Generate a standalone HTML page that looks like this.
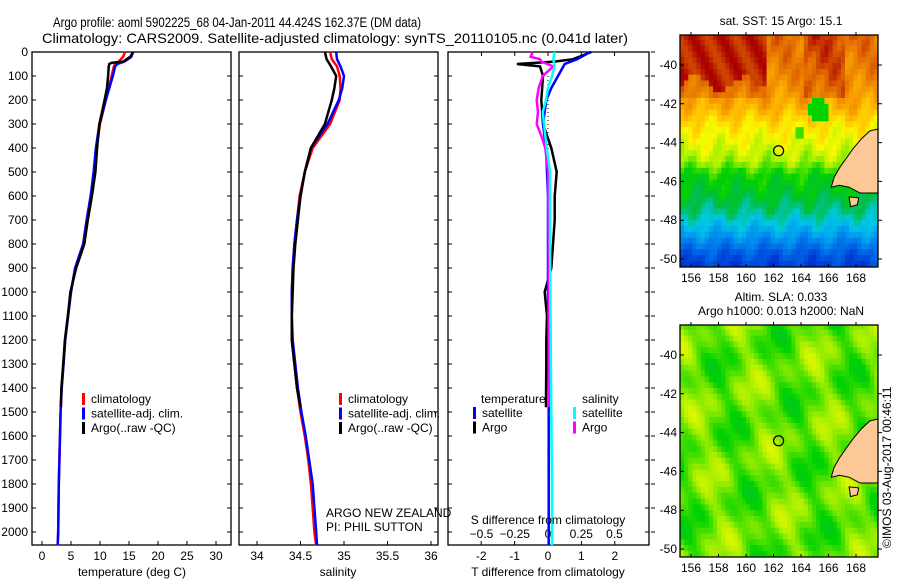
<!DOCTYPE html>
<html><head><meta charset="utf-8"><style>
html,body{margin:0;padding:0;background:#fff}
svg{display:block;font-family:"Liberation Sans",sans-serif}
</style></head><body>
<svg id="fig" width="900" height="580" viewBox="0 0 900 580">
<defs>
<clipPath id="c1"><rect x="680" y="35" width="198" height="232"/></clipPath>
<clipPath id="c2"><rect x="680" y="325" width="198" height="232"/></clipPath>
</defs>
<text x="53" y="27" font-size="14" textLength="368" lengthAdjust="spacingAndGlyphs">Argo profile: aoml 5902225_68 04-Jan-2011 44.424S 162.37E (DM data)</text>
<text x="42" y="43" font-size="14" textLength="586" lengthAdjust="spacingAndGlyphs">Climatology: CARS2009. Satellite-adjusted climatology: synTS_20110105.nc (0.041d later)</text>
<g id="g1"></g>
<g id="g2"></g>
<g id="g3"></g>
<g id="m1"></g>
<g id="m2"></g>
<text transform="translate(891,548) rotate(-90)" font-size="12">©IMOS 03-Aug-2017 00:46:11</text>
</svg>
<script>
// ---- data ----
const tDepth = [0,20,40,50,60,100,150,200,300,400,500,600,700,800,900,1000,1100,1200,1300,1400,1500,1600,1800,2000,2055];
const tClim  = [14.3,14.0,13.2,12.6,12.4,12.0,11.5,11.0,10.0,9.4,9.0,8.4,7.7,7.1,5.7,5.0,4.5,4.0,3.7,3.4,3.2,3.1,2.9,2.8,2.7];
const tSat   = [15.7,15.4,14.2,13.0,12.6,12.2,11.6,11.0,9.9,9.3,8.9,8.4,7.7,7.1,5.7,5.0,4.5,4.0,3.7,3.4,3.2,3.1,2.9,2.8,2.7];
const aDepth = [0,20,40,45,50,60,100,150,200,300,400,500,600,700,800,900,1000,1100,1200,1300,1400,1480];
const tArgo  = [15.7,15.2,14.0,12.0,11.6,11.5,11.4,11.2,10.8,9.9,9.5,9.2,8.6,7.9,7.3,5.9,4.9,4.45,3.95,3.65,3.35,3.25];
const sDepth = [0,30,60,100,150,200,300,400,500,600,700,800,900,1000,1100,1200,1300,1400,1500,1600,1700,1800,1900,2000,2055];
const sClim  = [34.84,34.86,34.92,34.95,34.96,34.95,34.84,34.64,34.55,34.49,34.46,34.43,34.41,34.40,34.40,34.40,34.43,34.46,34.50,34.55,34.59,34.62,34.64,34.66,34.68];
const sSat   = [34.91,34.92,34.96,35.00,34.98,34.94,34.81,34.62,34.55,34.50,34.46,34.43,34.41,34.40,34.40,34.41,34.44,34.47,34.51,34.56,34.60,34.64,34.66,34.68,34.69];
const sArgo  = [34.78,34.80,34.85,34.91,34.89,34.86,34.78,34.62,34.55,34.50,34.47,34.44,34.42,34.41,34.40,34.40,34.43,34.46,34.50];
const sArgoDepth = [0,30,60,100,150,200,300,400,500,600,700,800,900,1000,1100,1200,1300,1400,1480];
const dTSatDepth = [0,30,50,100,150,200,300,400,500,600,800,1000,1200,1500,1800,2055];
const dTSat  = [1.26,0.87,0.5,0.3,0.1,-0.05,-0.15,-0.06,-0.03,0,0,0,0.02,0.02,0.02,0.02];
const dTArgoDepth = [0,30,40,50,60,100,200,300,400,500,600,700,800,900,1000,1100,1200,1300,1450,1480];
const dTArgo = [1.3,0.75,0.2,-0.93,-0.24,-0.15,-0.2,-0.15,0.1,0.26,0.2,0.2,0.15,0.1,-0.1,-0.03,-0.05,-0.05,-0.06,-0.06];
const dSSatDepth = [0,30,60,100,150,200,250,300,400,500,800,1200,1500,1800,2055];
const dSSat  = [0.05,0.04,0.05,0.03,0.0,-0.015,-0.04,-0.03,-0.01,0.015,0.015,0.02,0.025,0.03,0.03];
const dSArgoDepth = [0,20,30,40,60,80,100,150,200,250,300,350,400,500,800,1200,1480];
const dSArgo = [-0.115,-0.13,-0.06,-0.05,0.04,0,-0.04,-0.07,-0.085,-0.075,-0.085,-0.05,-0.02,0,0.005,0.005,0.005];
const depthTicks = [0,100,200,300,400,500,600,700,800,900,1000,1100,1200,1300,1400,1500,1600,1700,1800,1900,2000];
const tTicks = [0,5,10,15,20,25,30];
const sTicks = [34,34.5,35,35.5,36];
const sTickLabels = ["34","34.5","35","35.5","36"];
const dTTicks = [-2,-1,0,1,2];
const dSTicks = [-0.5,-0.25,0,0.25,0.5];
const dSTickLabels = ["−0.5","−0.25","0","0.25","0.5"];
const latTicks = [-40,-42,-44,-46,-48,-50];
const lonTicks = [156,158,160,162,164,166,168];
const argoLon = 162.37, argoLat = -44.42;
// SST meridional profile (normalised colour index by latitude)
const sstLat = [-38.4,-40,-41,-42,-43,-44,-44.8,-45.5,-46.5,-47.5,-48.5,-49.5,-50.6];
const sstIdx = [0.83,0.81,0.79,0.75,0.68,0.64,0.6,0.52,0.48,0.42,0.33,0.22,0.14];

const NS="http://www.w3.org/2000/svg";
function mk(p,tag,a,txt){const e=document.createElementNS(NS,tag);for(const k in a)e.setAttribute(k,a[k]);if(txt!==undefined)e.textContent=txt;p.appendChild(e);return e;}
const yD = d => 52 + d*0.24;
const TOP=52, BOT=545;

function frame(g,x0,x1){
  const r=mk(g,'rect',{x:x0,y:TOP,width:x1-x0,height:BOT-TOP,fill:'none',stroke:'#000','stroke-width':1.3});
  
  
  depthTicks.forEach(d=>{
    const t=mk(g,'path',{d:`M${x0} ${yD(d)}h4M${x1} ${yD(d)}h-4`,stroke:'#000'});
    
    
  });
}
function line(g,xs,ds,fx,col,w,name){
  const pts=xs.map((v,i)=>fx(v).toFixed(1)+','+yD(ds[i]).toFixed(1)).join(' ');
  const p=mk(g,'polyline',{points:pts,fill:'none',stroke:col,'stroke-width':w});
  
  
}
function xticks(g,ticks,labels,fx,y,up){
  ticks.forEach((v,i)=>{
    const t=mk(g,'path',{d:`M${fx(v)} ${up?BOT:TOP}v${up?-4:4}`,stroke:'#000'});
    
    
    const l=mk(g,'text',{x:fx(v),y:y,'font-size':12,'text-anchor':'middle'},labels[i]);
    
    
  });
}
function legend(g,x,y,items){
  items.forEach((it,i)=>{
    const b=mk(g,'rect',{x:x,y:y+i*14.5-10,width:3,height:12,fill:it[0]});
    
    
    const t=mk(g,'text',{x:x+9,y:y+i*14.5,'font-size':12},it[1]);
    
    
  });
}

// panel 1
const g1=document.getElementById('g1');
const fT=v=>42+v*5.8;
frame(g1,32,231);
depthTicks.forEach(d=>{
  const l=mk(g1,'text',{x:28,y:yD(d)+4,'font-size':12,'text-anchor':'end'},String(d));
  
  
});
xticks(g1,tTicks,tTicks.map(String),fT,560,true);
line(g1,tClim,tDepth,fT,'#f00',2.5,'temperature-climatology-line');
line(g1,tSat,tDepth,fT,'#00f',2.5,'temperature-satellite-line');
line(g1,tArgo,aDepth,fT,'#000',2.5,'temperature-argo-line');
legend(g1,82,403,[['#f00','climatology'],['#00f','satellite-adj. clim.'],['#000','Argo(..raw -QC)']]);
let xl=mk(g1,'text',{x:132,y:576,'font-size':12,'text-anchor':'middle'},'temperature (deg C)');


// panel 2
const g2=document.getElementById('g2');
const fS=v=>257+(v-34)*87;
frame(g2,239,438);
xticks(g2,sTicks,sTickLabels,fS,560,true);
line(g2,sClim,sDepth,fS,'#f00',2.5,'salinity-climatology-line');
line(g2,sSat,sDepth,fS,'#00f',2.5,'salinity-satellite-line');
line(g2,sArgo,sArgoDepth,fS,'#000',2.5,'salinity-argo-line');
legend(g2,339,403,[['#f00','climatology'],['#00f','satellite-adj. clim.'],['#000','Argo(..raw -QC)']]);
let t1=mk(g2,'text',{x:326,y:517,'font-size':12},'ARGO NEW ZEALAND');
let t2=mk(g2,'text',{x:326,y:531,'font-size':12},'PI: PHIL SUTTON');
xl=mk(g2,'text',{x:338,y:576,'font-size':12,'text-anchor':'middle'},'salinity');


// panel 3
const g3=document.getElementById('g3');
const fDT=v=>548+v*33.4, fDS=v=>548+v*133;
frame(g3,448,649);
depthTicks.forEach(d=>{const t=mk(g3,'path',{d:`M651 ${yD(d)}h4`,stroke:'#000'});});
xticks(g3,dTTicks,dTTicks.map(String),fDT,560,true);
dSTicks.forEach((v,i)=>{const t=mk(g3,'path',{d:`M${fDS(v)} ${TOP}v4`,stroke:'#000'});
  const l=mk(g3,'text',{x:fDS(v),y:538,'font-size':12,'text-anchor':'middle'},dSTickLabels[i]);});
let z=mk(g3,'line',{x1:fDT(0),x2:fDT(0),y1:yD(100),y2:yD(720),stroke:'#000','stroke-dasharray':'1 3'});
line(g3,dTArgo,dTArgoDepth,fDT,'#000',2.5,'t-diff-argo-line');
line(g3,dTSat,dTSatDepth,fDT,'#00f',2.5,'t-diff-satellite-line');
line(g3,dSArgo,dSArgoDepth,fDS,'#f0f',2.5,'s-diff-argo-line');
line(g3,dSSat,dSSatDepth,fDS,'#0ff',2.5,'s-diff-satellite-line');
let lt=mk(g3,'text',{x:481,y:403,'font-size':12},'temperature');
let ls=mk(g3,'text',{x:582,y:403,'font-size':12},'salinity');
legend(g3,473,417,[['#00f','satellite'],['#000','Argo']]);
legend(g3,573,417,[['#0ff','satellite'],['#f0f','Argo']]);
let sx=mk(g3,'text',{x:548,y:524,'font-size':12,'text-anchor':'middle'},'S difference from climatology');
xl=mk(g3,'text',{x:548,y:576,'font-size':12,'text-anchor':'middle'},'T difference from climatology');


// maps
const cmapStops=[[0,[0,0,130]],[0.15,[0,50,210]],[0.28,[0,130,240]],[0.38,[0,200,230]],[0.46,[0,190,60]],[0.52,[0,210,0]],[0.6,[170,240,0]],[0.66,[250,250,0]],[0.74,[255,180,0]],[0.84,[225,105,0]],[0.93,[170,0,0]],[1,[150,0,0]]];
function cmap(t){t=Math.max(0,Math.min(1,t));for(let i=1;i<cmapStops.length;i++){if(t<=cmapStops[i][0]){const a=cmapStops[i-1],b=cmapStops[i],f=(t-a[0])/(b[0]-a[0]);return 'rgb('+a[1].map((v,k)=>Math.round(v+(b[1][k]-v)*f)).join(',')+')';}}return 'rgb(150,0,0)';}
function interp(xs,ys,x){for(let i=1;i<xs.length;i++){if(x>=xs[i]){const f=(x-xs[i-1])/(xs[i]-xs[i-1]);return ys[i-1]+(ys[i]-ys[i-1])*f;}}return ys[ys.length-1];}
const land=[[169.6,-43.3],[169.0,-43.4],[168.4,-43.8],[167.8,-44.3],[167.3,-44.8],[166.8,-45.3],[166.4,-45.8],[166.2,-46.3],[166.8,-46.2],[167.5,-46.3],[168.3,-46.6],[169.6,-46.6]];
const isl=[[167.5,-46.8],[168.2,-46.85],[168.1,-47.2],[167.6,-47.3]];
function drawMap(id,clip,y0,title1,title2,sst){
  const g=document.getElementById(id);
  const x0=680,x1=878,y1=y0+232;
  const fx=l=>691+(l-156)*13.75, fy=la=>y0+30+(-40-la)*19.4;
  const cg=mk(g,'g',{'clip-path':`url(#${clip})`});
  
  
  const step=0.3;
  for(let lo=155.2;lo<169.6;lo+=step){for(let la=-38.4;la>-50.6;la-=step){
    let t;
    if(sst){
      t=interp(sstLat,sstIdx,la)+0.025*Math.sin(lo*2.1+la*1.3)+0.02*Math.sin(lo*4.7-la*3.1);
      if(lo<161.5 && la>-40.8+0.4*Math.sin(lo*1.7)) t=0.9+0.03*Math.sin(lo*3+la*2);
      else if(lo<161.5 && la>-41.5) t+=0.04;
      if(la>-41.5&&lo>164&&lo<167) t+=0.05;
      if(Math.hypot(lo-165.2,(la+42.2)*1.3)<0.8) t=0.52;
      if(Math.hypot(lo-163.8,(la+43.3)*1.3)<0.35) t=0.55;
    } else {
      t=0.565+0.03*Math.sin(lo*1.3+la*0.45)+0.025*Math.sin(lo*0.55-la*1.7)+0.02*Math.sin(lo*2.9+la*2.3);
    }
    const r=mk(cg,'rect',{x:fx(lo).toFixed(1),y:fy(la).toFixed(1),width:(step*13.75+0.6).toFixed(1),height:(step*19.4+0.6).toFixed(1),fill:cmap(t)});
    
    
  }}
  const pl=mk(cg,'polygon',{points:land.map(p=>fx(p[0])+','+fy(p[1])).join(' '),fill:'#fcc896',stroke:'#000'});
  
  const pi=mk(cg,'polygon',{points:isl.map(p=>fx(p[0])+','+fy(p[1])).join(' '),fill:'#fcc896',stroke:'#000'});
  
  const fr=mk(g,'rect',{x:x0,y:y0,width:x1-x0,height:y1-y0,fill:'none',stroke:'#000','stroke-width':1.3});
  
  const c=mk(g,'circle',{cx:fx(argoLon),cy:fy(argoLat),r:5,fill:'none',stroke:'#000','stroke-width':1.2});
  
  latTicks.forEach(v=>{const t=mk(g,'path',{d:`M${x0} ${fy(v)}h4M${x1} ${fy(v)}h4`,stroke:'#000'});
    const l=mk(g,'text',{x:x0-3,y:fy(v)+4,'font-size':12,'text-anchor':'end'},String(v));});
  lonTicks.forEach(v=>{const t=mk(g,'path',{d:`M${fx(v)} ${y0}v-3M${fx(v)} ${y1}v-3`,stroke:'#000'});
    const l=mk(g,'text',{x:fx(v),y:y1+15,'font-size':12,'text-anchor':'middle'},String(v));});
  const tt=mk(g,'text',{x:781,y:y0-10-(title2?14:0),'font-size':12,'text-anchor':'middle'},title1);
  if(title2){const t2=mk(g,'text',{x:781,y:y0-10,'font-size':12,'text-anchor':'middle'},title2);}
}
drawMap('m1','c1',35,'sat. SST: 15 Argo: 15.1',null,true);
drawMap('m2','c2',325,'Altim. SLA: 0.033','Argo h1000: 0.013 h2000: NaN',false);
</script>
</body></html>
